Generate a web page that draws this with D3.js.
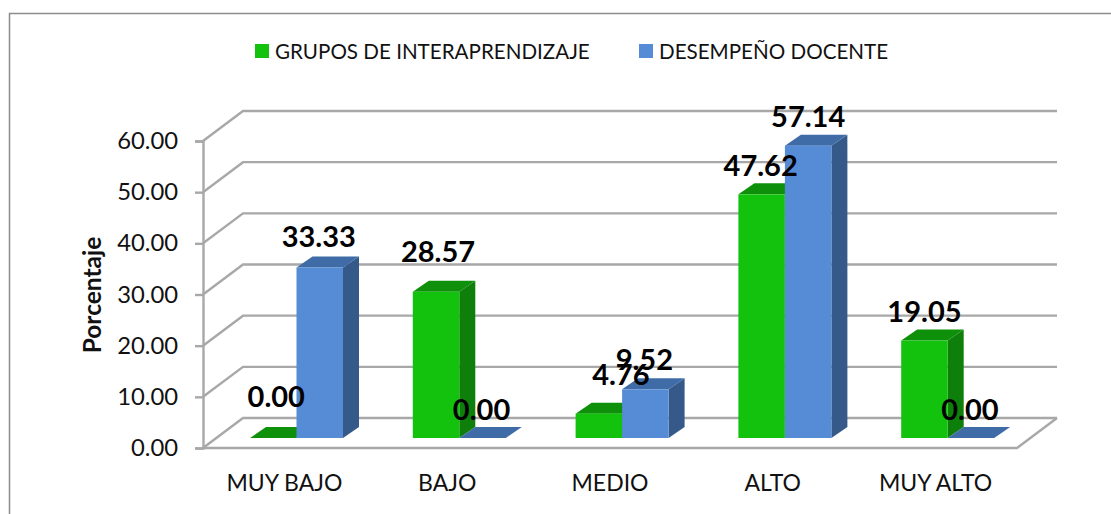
<!DOCTYPE html>
<html>
<head>
<meta charset="utf-8">
<script src="https://cdn.jsdelivr.net/npm/d3@7"></script>
<style>
  html, body { margin: 0; padding: 0; background: #fff; overflow: hidden; }
  text { font-family: Lato, "Open Sans", sans-serif; fill: #111; }
</style>
</head>
<body>
<div id="chart"></div>
<script>
const categories = ["MUY BAJO", "BAJO", "MEDIO", "ALTO", "MUY ALTO"];
const seriesNames = ["GRUPOS DE INTERAPRENDIZAJE", "DESEMPEÑO DOCENTE"];
const grupos = [0.00, 28.57, 4.76, 47.62, 19.05];
const desempeno = [33.33, 0.00, 9.52, 57.14, 0.00];
const yTicks = [0, 10, 20, 30, 40, 50, 60];

const GREEN = { face: "#12c20c", top: "#0e900a", side: "#0e7f0b" };
const BLUE = { face: "#568cd6", top: "#3f6ca6", side: "#355a8a" };
const GRID = "#a8a8a8";

// 3d offset of the back wall and of the bars
const wallDx = 40, wallDy = -30;
const barDx = 16, barDy = -11;
const floorGap = 10; // bars stand this far behind the front edge

const svg = d3.select("#chart")
  .append("svg")
  .attr("width", 1111)
  .attr("height", 514)
  .style("display", "block");

let yScale = d3.scaleLinear().domain([0, 60]).range([448, 141]);
let xScale = d3.scaleBand().domain(categories).range([203, 1017]);
let seriesScale = d3.scaleBand().domain(seriesNames).range([47, 140]);

// outer frame, runs off the right and bottom of the picture
svg.append("path")
  .attr("d", "M9.5,514V13.5H1111")
  .attr("fill", "none")
  .attr("stroke", "#8c8c8c")
  .attr("stroke-width", 1.5);

// walls and grid lines
let wall = svg.append("g").attr("fill", "none").attr("stroke", GRID).attr("stroke-width", 2.4);
wall.selectAll("path")
  .data(yTicks)
  .enter()
  .append("path")
  .attr("d", (d) => {
    let x0 = xScale.range()[0], x1 = xScale.range()[1], y = yScale(d);
    return `M${x0},${y}L${x0 + wallDx},${y + wallDy}H${x1 + wallDx}`;
  });
wall.append("path")
  .attr("d", () => {
    let x0 = xScale.range()[0], x1 = xScale.range()[1], y = yScale(0);
    return `M${x1 + wallDx},${y + wallDy}L${x1},${y}H${x0}`;
  });

// y axis
let yAxis = svg.append("g")
  .attr("transform", `translate(${xScale.range()[0]},0)`)
  .call(d3.axisLeft(yScale).tickValues(yTicks).tickFormat(d3.format(".2f")).tickSize(8).tickPadding(17));
yAxis.selectAll("path, line").attr("stroke", GRID).attr("stroke-width", 2.4);
yAxis.selectAll("text").attr("font-size", 23.8).style("font-family", 'Lato, "Open Sans", sans-serif').attr("fill", "#111");

// bars
let barData = [];
categories.forEach((c, i) => {
  barData.push({ cat: c, series: seriesNames[0], value: grupos[i], col: GREEN });
  barData.push({ cat: c, series: seriesNames[1], value: desempeno[i], col: BLUE });
});

function barGeom(d) {
  let x = xScale(d.cat) + seriesScale(d.series);
  let w = seriesScale.bandwidth();
  let yTop = yScale(d.value) - floorGap;
  let yBase = yScale(0) - floorGap;
  return { x, w, yTop, yBase };
}

let bars = svg.append("g").selectAll("g").data(barData).enter().append("g");
bars.append("path")
  .attr("fill", (d) => d.col.side)
  .attr("d", (d) => {
    let g = barGeom(d), r = g.x + g.w;
    return `M${r},${g.yBase}V${g.yTop}l${barDx},${barDy}V${g.yBase + barDy}Z`;
  });
bars.append("path")
  .attr("fill", (d) => d.col.top)
  .attr("d", (d) => {
    let g = barGeom(d);
    return `M${g.x},${g.yTop}l${barDx},${barDy}h${g.w}l${-barDx},${-barDy}Z`;
  });
bars.append("rect")
  .attr("fill", (d) => d.col.face)
  .attr("x", (d) => barGeom(d).x)
  .attr("y", (d) => barGeom(d).yTop)
  .attr("width", (d) => barGeom(d).w)
  .attr("height", (d) => barGeom(d).yBase - barGeom(d).yTop);

// data labels, placed by hand in the original so each has its own nudge
const nudges = [[3, -31], [-1, -20], [2, -30], [-1, -18], [22, -29], [-1, -19], [-1, -18], [0, -19], [0, -19], [-1, -18]];
svg.append("g")
  .selectAll("text")
  .data(barData)
  .enter()
  .append("text")
  .text((d) => d.value.toFixed(2))
  .attr("x", (d, i) => barGeom(d).x + barGeom(d).w / 2 + nudges[i][0])
  .attr("y", (d, i) => barGeom(d).yTop + nudges[i][1])
  .attr("text-anchor", "middle")
  .attr("font-size", 29)
  .attr("font-weight", 700)
  .style("fill", "#000");

// category labels
svg.append("g")
  .selectAll("text")
  .data(categories)
  .enter()
  .append("text")
  .text((d) => d)
  .attr("x", (d) => xScale(d) + xScale.bandwidth() / 2)
  .attr("y", 491)
  .attr("text-anchor", "middle")
  .attr("font-size", 23);

// axis title
svg.append("text")
  .text("Porcentaje")
  .attr("transform", "translate(101,295) rotate(-90)")
  .attr("text-anchor", "middle")
  .attr("font-size", 24.5)
  .attr("font-weight", 700);

// legend
const legendX = [255, 639];
let legend = svg.append("g")
  .selectAll("g")
  .data(seriesNames)
  .enter()
  .append("g")
  .attr("transform", (d, i) => `translate(${legendX[i]},44)`);
legend.append("rect")
  .attr("width", 14)
  .attr("height", 14)
  .attr("fill", (d, i) => (i ? BLUE.face : GREEN.face));
legend.append("text")
  .text((d) => d)
  .attr("x", 20)
  .attr("y", 14.5)
  .attr("font-size", 20.6);
</script>
</body>
</html>
